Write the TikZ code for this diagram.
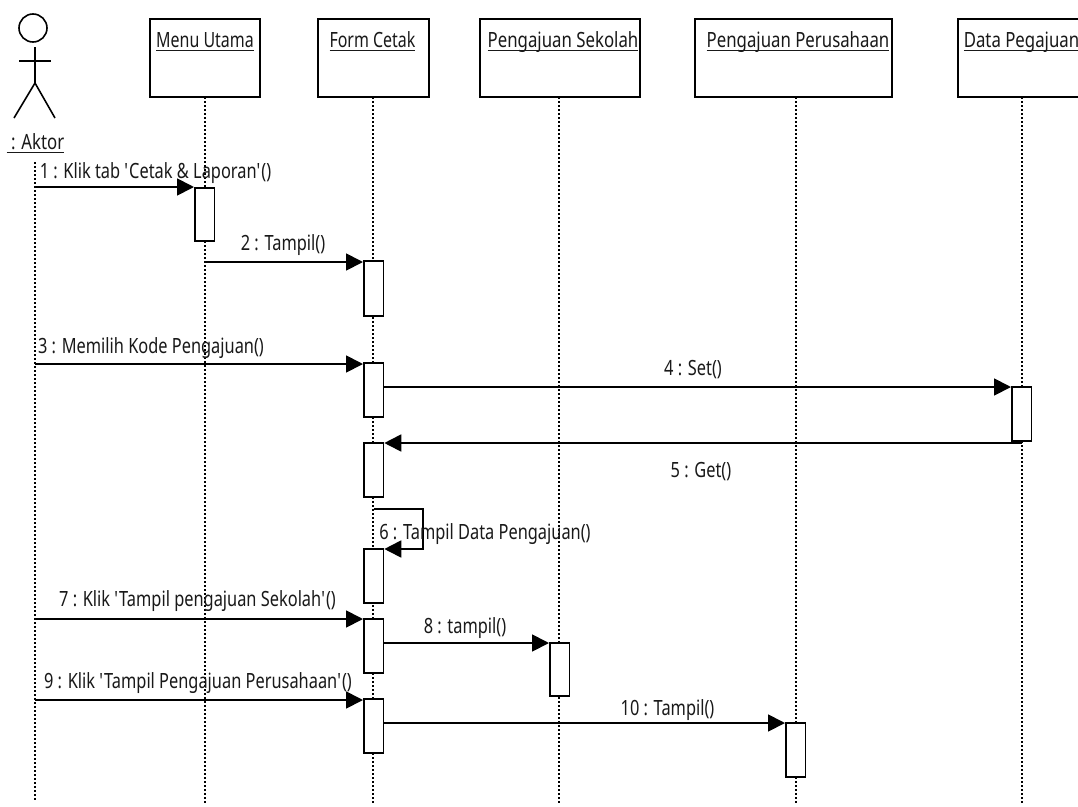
\documentclass[tikz,border=0pt]{standalone}
\usepackage{fontspec}
\setmainfont[FakeStretch=0.80]{Noto Sans}
\newfontfamily\lblfont[FakeStretch=0.78]{Noto Sans}
\usetikzlibrary{arrows.meta}
\tikzset{
  objbox/.style={draw=black,line width=1.8pt,fill=white,minimum height=78pt,anchor=north west,inner sep=0pt},
  objtxt/.style={font=\fontsize{21}{23}\selectfont,inner sep=0pt,text=black!90,anchor=base},
  lbl/.style={font=\lblfont\fontsize{21}{23}\selectfont,inner sep=0pt,text=black!90,anchor=base},
  life/.style={line width=1.6pt,dash pattern=on 2pt off 2pt},
  act/.style={draw=black,line width=1.8pt,fill=white,minimum width=19.5pt,inner sep=0pt,anchor=north west},
  msg/.style={line width=1.8pt,-{Triangle[length=17pt,width=17pt]},shorten >=0pt},
  stick/.style={line width=1.6pt}
}
\newsavebox{\ulbox}
\newcommand{\ul}[1]{\sbox{\ulbox}{#1}\rlap{\rule[-4pt]{\wd\ulbox}{1.5pt}}\usebox{\ulbox}}
\newcommand{\nar}[1]{\scalebox{0.95}[1]{#1}}
\newcommand{\q}{\textquotesingle}
\begin{document}
\begin{tikzpicture}[x=1pt,y=-1pt]
\clip (0,0) rectangle (1078,806);
\fill[white] (0,0) rectangle (1078,806);
% lifelines
\coordinate (e0) at (35,800);
\coordinate (e1) at (205,803);
\coordinate (e2) at (373,803);
\coordinate (e3) at (559,803);
\coordinate (e4) at (796,803);
\coordinate (e5) at (1022,803);
\coordinate (t0) at (35,162);
\draw[life] (t0) -- (e0);
% object boxes
\node[objbox,minimum width=110pt] (o1) at (149,18) {};
\node[objbox,minimum width=111pt] (o2) at (317,18) {};
\node[objbox,minimum width=160pt] (o3) at (479,18) {};
\node[objbox,minimum width=197pt] (o4) at (694,18) {};
\node[objbox,minimum width=140pt] (o5) at (957,18) {};
\node[objtxt] (n1) at (205,47) {\ul{\nar{Menu Utama}}};
\node[objtxt] (n2) at (372.5,47) {\ul{\nar{Form Cetak}}};
\node[objtxt] (n3) at (563,47) {\ul{Pengajuan Sekolah}};
\node[objtxt] (n4) at (798,47) {\ul{Pengajuan Perusahaan}};
\node[objtxt] (n5) at (1021.5,47) {\ul{Data Pegajuan}};
\foreach \i/\x in {1/205,2/373,3/559,4/796,5/1022}
  \draw[life] (\x,97) -- (e\i);
% actor
\node[circle,draw=black,line width=1.6pt,minimum size=28pt,inner sep=0pt] (head) at (33,28) {};
\coordinate (hip) at (35,83);
\coordinate (armL) at (19,61);
\coordinate (armR) at (51,61);
\coordinate (legL) at (14,118);
\coordinate (legR) at (55,118);
\draw[stick] (35,47) -- (hip);
\draw[stick] (armL) -- (armR);
\draw[stick] (legL) -- (hip) -- (legR);
\node[objtxt] (actor) at (35.5,149) {\ul{\ : Aktor}};
% activations
\node[act,minimum height=53pt] (a1) at (194,187) {};
\node[act,minimum height=55pt] (a2) at (363,260) {};
\node[act,minimum height=54pt] (a3) at (363,362) {};
\node[act,minimum height=54pt] (a4) at (1011,386) {};
\node[act,minimum height=54pt] (a5) at (363,442) {};
\node[act,minimum height=54pt] (a6) at (363,548) {};
\node[act,minimum height=54pt] (a7) at (363,618) {};
\node[act,minimum height=53pt] (a8) at (549,642) {};
\node[act,minimum height=54pt] (a9) at (363,698) {};
\node[act,minimum height=54pt] (a10) at (785,722) {};
% messages
\coordinate (s1) at (35,187);
\coordinate (s2) at (206,262);
\coordinate (s3) at (35,364);
\coordinate (s4) at (384,387);
\coordinate (s5) at (1022,443);
\coordinate (s6) at (374,509);
\coordinate (c6a) at (423,509);
\coordinate (c6b) at (423,549);
\coordinate (s7) at (35,619);
\coordinate (s8) at (384,643);
\coordinate (s9) at (35,700);
\coordinate (s10) at (384,723);
\draw[msg] (s1) -- (a1.north west);
\draw[msg] (s2) -- (a2.north west |- s2);
\draw[msg] (s3) -- (a3.north west |- s3);
\draw[msg] (s4) -- (a4.north west |- s4);
\draw[msg] (s5) -- (a5.north east |- s5);
\draw[line width=1.8pt,-{Triangle[length=17pt,width=17pt]}] (s6) -- (c6a) -- (c6b) -- (a6.north east |- c6b);
\draw[msg] (s7) -- (a7.north west |- s7);
\draw[msg] (s8) -- (a8.north west |- s8);
\draw[msg] (s9) -- (a9.north west |- s9);
\draw[msg] (s10) -- (a10.north west |- s10);
% labels
\node[lbl] (l1) at (155.5,178) {1 : Klik tab \q Cetak \& Laporan\q()};
\node[lbl] (l2) at (283,250) {2 : Tampil()};
\node[lbl] (l3) at (151,353) {3 : Memilih Kode Pengajuan()};
\node[lbl] (l4) at (693,375) {4 : Set()};
\node[lbl] (l5) at (701,477) {5 : Get()};
\node[lbl] (l6) at (485,539) {6 : Tampil Data Pengajuan()};
\node[lbl] (l7) at (197.5,606) {7 : Klik \q Tampil pengajuan Sekolah\q()};
\node[lbl] (l8) at (465,633) {8 : tampil()};
\node[lbl] (l9) at (198,688) {9 : Klik \q Tampil Pengajuan Perusahaan\q()};
\node[lbl] (l10) at (667.5,715) {10 : Tampil()};
\end{tikzpicture}
\end{document}
